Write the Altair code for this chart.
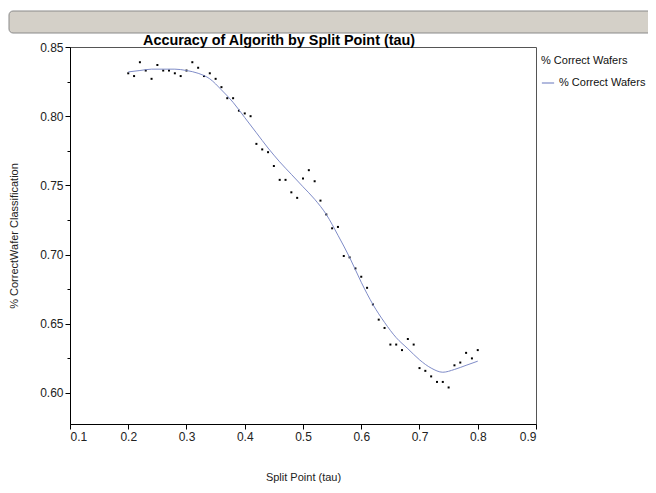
import altair as alt
import pandas as pd

# Observed points
tau = [0.20, 0.21, 0.22, 0.23, 0.24, 0.25, 0.26, 0.27, 0.28, 0.29,
       0.30, 0.31, 0.32, 0.33, 0.34, 0.35, 0.36, 0.37, 0.38, 0.39,
       0.40, 0.41, 0.42, 0.43, 0.44, 0.45, 0.46, 0.47, 0.48, 0.49,
       0.50, 0.51, 0.52, 0.53, 0.54, 0.55, 0.56, 0.57, 0.58, 0.59,
       0.60, 0.61, 0.62, 0.63, 0.64, 0.65, 0.66, 0.67, 0.68, 0.69,
       0.70, 0.71, 0.72, 0.73, 0.74, 0.75, 0.76, 0.77, 0.78, 0.79, 0.80]
correct = [0.831, 0.829, 0.839, 0.833, 0.827, 0.837, 0.833, 0.833, 0.831, 0.829,
           0.833, 0.839, 0.835, 0.829, 0.831, 0.827, 0.821, 0.813, 0.813, 0.804,
           0.802, 0.800, 0.780, 0.776, 0.774, 0.764, 0.754, 0.754, 0.745, 0.741,
           0.755, 0.761, 0.753, 0.739, 0.729, 0.719, 0.720, 0.699, 0.698, 0.690,
           0.684, 0.676, 0.664, 0.653, 0.647, 0.635, 0.635, 0.631, 0.639, 0.635,
           0.618, 0.616, 0.612, 0.608, 0.608, 0.604, 0.620, 0.622, 0.629, 0.625, 0.631]

# Smoothed fit curve
fit_tau = [0.20, 0.22, 0.24, 0.26, 0.28, 0.30, 0.32, 0.34, 0.36, 0.38,
           0.40, 0.42, 0.44, 0.46, 0.48, 0.50, 0.52, 0.54, 0.56, 0.58,
           0.60, 0.62, 0.64, 0.66, 0.68, 0.70, 0.72, 0.74, 0.76, 0.78, 0.80]
fit_val = [0.832, 0.833, 0.834, 0.834, 0.834, 0.833, 0.831, 0.827, 0.819, 0.810,
           0.799, 0.788, 0.777, 0.767, 0.758, 0.749, 0.740, 0.729, 0.714, 0.698,
           0.680, 0.664, 0.651, 0.640, 0.632, 0.624, 0.618, 0.615, 0.617, 0.620, 0.623]

x_ticks = [0.1, 0.2, 0.3, 0.4, 0.5, 0.6, 0.7, 0.8, 0.9]
y_ticks = [0.60, 0.65, 0.70, 0.75, 0.80, 0.85]
y_minor = [0.575, 0.625, 0.675, 0.725, 0.775, 0.825]
series_name = "% Correct Wafers"
chart_title = ["Accuracy of Algorith by Split Point (tau)"]

pts = pd.DataFrame({"tau": tau, "correct": correct})
fit = pd.DataFrame({"tau": fit_tau, "correct": fit_val, "series": [series_name] * len(fit_tau)})

FONT = "Liberation Sans"
xscale = alt.Scale(domain=[0.1, 0.9], nice=False, zero=False)
yscale = alt.Scale(domain=[0.5776, 0.85], nice=False, zero=False)

xaxis = alt.Axis(values=x_ticks, format=".1f", title="Split Point (tau)",
                 titlePadding=29, tickSize=5, labelPadding=2, grid=False,
                 domainColor="black", tickColor="black")
yaxis = alt.Axis(values=y_ticks, format=".2f", title="% CorrectWafer Classification",
                 titlePadding=20, tickSize=5, labelPadding=2, grid=False,
                 domainColor="black", tickColor="black")

points = alt.Chart(pts).mark_square(size=4, color="black", opacity=1).encode(
    x=alt.X("tau:Q", scale=xscale, axis=xaxis),
    y=alt.Y("correct:Q", scale=yscale, axis=yaxis),
)

minor = alt.Chart(pd.DataFrame({"v": y_minor})).mark_tick(opacity=0).encode(
    y=alt.Y("v:Q", scale=yscale,
            axis=alt.Axis(values=y_minor, orient="left", labels=False, domain=False,
                          tickSize=3, tickColor="black", title="", grid=False)),
)

line = alt.Chart(fit).mark_line(strokeWidth=1, interpolate="monotone").encode(
    x=alt.X("tau:Q", scale=xscale),
    y=alt.Y("correct:Q", scale=yscale, axis=None),
    color=alt.Color("series:N",
                    scale=alt.Scale(domain=[series_name], range=["#7f8cc8"]),
                    legend=alt.Legend(title=series_name, orient="none",
                                      legendX=471, legendY=8, symbolType="stroke",
                                      symbolSize=150, symbolStrokeWidth=1.2,
                                      titleFontWeight="normal", titleFontSize=11,
                                      labelFontSize=11, titlePadding=10,
                                      titleColor="#111", labelColor="#111")),
)

topbar = alt.Chart(pd.DataFrame({"k": [0]})).mark_rect(
    fill="#d4d0c8", stroke="#8a8a8a", strokeWidth=1, cornerRadius=4
).encode(
    x=alt.value(-61), x2=alt.value(620), y=alt.value(-36), y2=alt.value(-14)
)

title_mark = alt.Chart(pd.DataFrame({"t": chart_title})).mark_text(
    font=FONT, fontSize=14.4, fontWeight="bold", color="black",
    align="left", baseline="alphabetic"
).encode(
    text="t:N", x=alt.value(73), y=alt.value(-2)
)

chart = alt.layer(topbar, points, minor, line, title_mark).resolve_axis(y="independent").properties(
    width=466, height=377,
    autosize=alt.AutoSizeParams(type="none"),
    padding={"left": 62, "top": 39, "right": 112, "bottom": 61},
).configure_view(stroke="#555", strokeWidth=1).configure_axis(
    labelFont=FONT, titleFont=FONT, labelFontSize=12, titleFontSize=11,
    labelColor="#222", titleColor="#222", titleFontWeight="normal",
).configure_legend(labelFont=FONT, titleFont=FONT)

chart.save("out.html", embed_options={"renderer": "svg", "actions": False})
